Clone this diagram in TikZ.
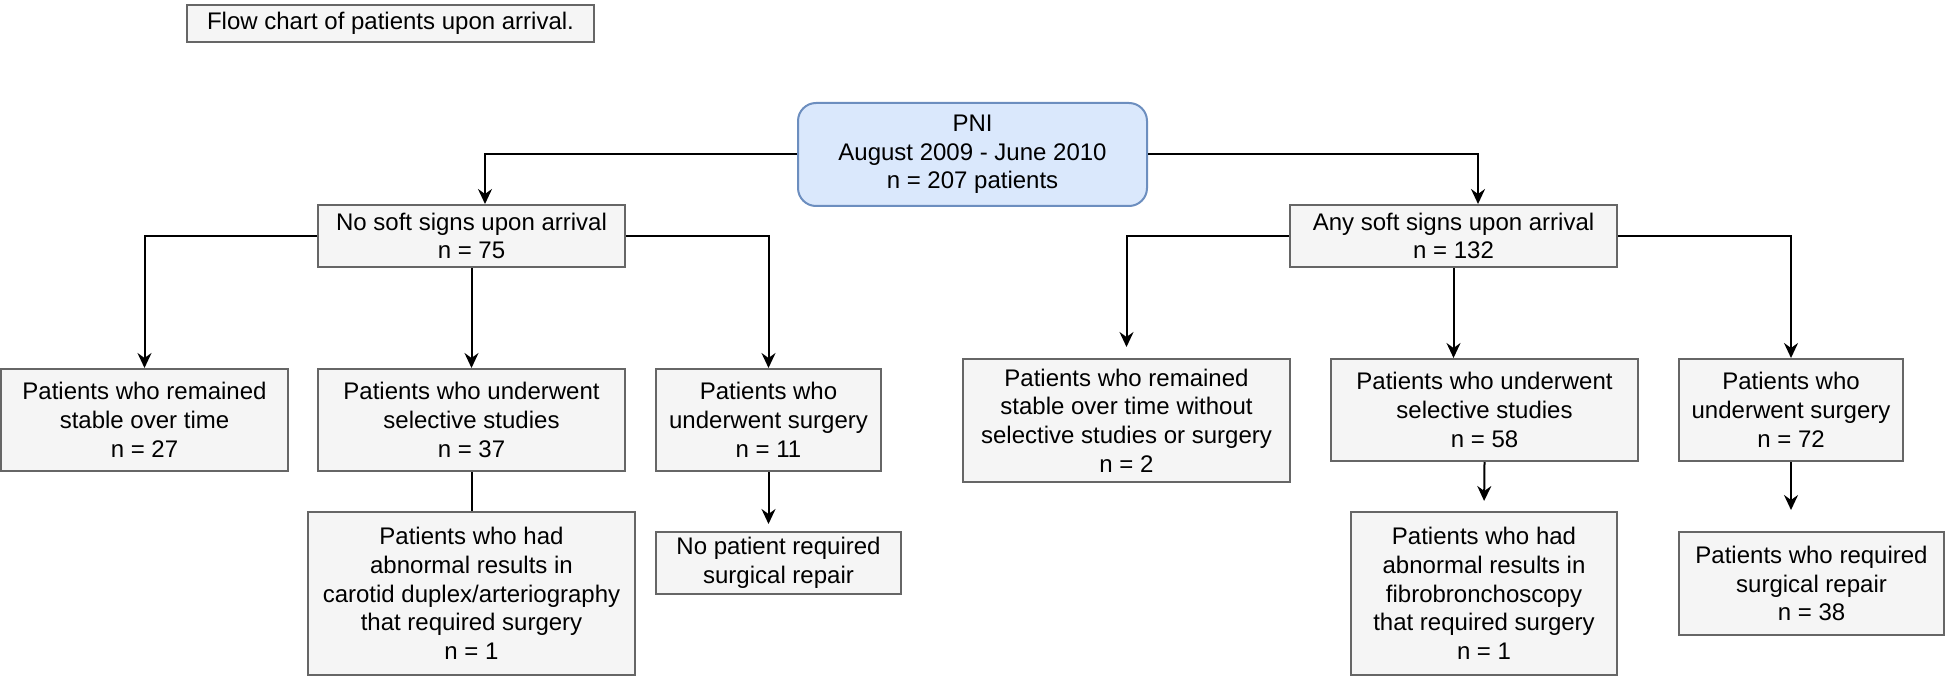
\documentclass[tikz,border=0pt]{standalone}
\usepackage{fontspec}
\setmainfont{Liberation Sans}
\usetikzlibrary{calc,arrows.meta}

\definecolor{pnifill}{HTML}{DAE8FC}
\definecolor{pniline}{HTML}{6C8EBF}
\definecolor{boxfill}{HTML}{F5F5F5}
\definecolor{boxline}{HTML}{666666}

\tikzset{
  greybox/.style={draw=boxline,fill=boxfill,line width=1pt,inner sep=0pt,
    align=center,font=\fontsize{12}{14.35}\selectfont},
  bluebox/.style={greybox,draw=pniline,fill=pnifill,rounded corners=9pt},
  flow/.style={line width=1pt,-{Stealth[length=7.5pt,width=7pt,inset=2.5pt]}},
  link/.style={line width=1pt}
}

\begin{document}
\begin{tikzpicture}[x=0.5pt,y=-0.5pt]
\useasboundingbox (0,0) rectangle (1946,679);

% Title and root
\node[greybox,minimum width=203.5pt,minimum height=18.5pt] (title) at (390.5,23.5)
  {Flow chart of patients upon arrival.};
\node[bluebox,minimum width=174.5pt,minimum height=51.5pt] (pni) at (972.5,154.5)
  {PNI\\August 2009 - June 2010\\n = 207 patients};

% Second level
\node[greybox,minimum width=153.5pt,minimum height=31pt] (nosoft) at (471.5,236)
  {No soft signs upon arrival\\n = 75};
\node[greybox,minimum width=163.5pt,minimum height=31pt] (anysoft) at (1453.5,236)
  {Any soft signs upon arrival\\n = 132};

% No soft signs branch
\node[greybox,minimum width=143.5pt,minimum height=51pt] (stableL) at (144.5,420)
  {Patients who remained\\stable over time\\n = 27};
\node[greybox,minimum width=153.5pt,minimum height=51pt] (studiesL) at (471.5,420)
  {Patients who underwent\\selective studies\\n = 37};
\node[greybox,minimum width=112.5pt,minimum height=51pt] (surgeryL) at (768.5,420)
  {Patients who\\underwent surgery\\n = 11};
\node[greybox,minimum width=163.5pt,minimum height=81.5pt] (carotid) at (471.5,593.5)
  {Patients who had\\abnormal results in\\carotid duplex/arteriography\\that required surgery\\n = 1};
\node[greybox,minimum width=122.5pt,minimum height=31pt] (norepair) at (778.5,563)
  {No patient required\\surgical repair};

% Any soft signs branch
\node[greybox,minimum width=163.5pt,minimum height=61.5pt] (stableR) at (1126.5,420.5)
  {Patients who remained\\stable over time without\\selective studies or surgery\\n = 2};
\node[greybox,minimum width=153.5pt,minimum height=51pt] (studiesR) at (1484.5,410)
  {Patients who underwent\\selective studies\\n = 58};
\node[greybox,minimum width=112pt,minimum height=51pt] (surgeryR) at (1791,410)
  {Patients who\\underwent surgery\\n = 72};
\node[greybox,minimum width=133pt,minimum height=81.5pt] (fibro) at (1484,593.5)
  {Patients who had\\abnormal results in\\fibrobronchoscopy\\that required surgery\\n = 1};
\node[greybox,minimum width=132.5pt,minimum height=51.5pt] (repairR) at (1811.5,583.5)
  {Patients who required\\surgical repair\\n = 38};

% Connectors
\draw[flow] (pni.west) -| ($(nosoft.north)+(13.5,0)$);
\draw[flow] (pni.east) -| ($(anysoft.north)+(24.5,0)$);

\draw[flow] (nosoft.west) -| (stableL.north);
\draw[flow] (nosoft.south) -- (studiesL.north);
\draw[flow] (nosoft.east) -| (surgeryL.north);
\draw[link] (studiesL.south) -- (carotid.north);
\draw[flow,shorten >=3.5pt] (surgeryL.south) -- (surgeryL.south |- norepair.north);

\draw[flow,shorten >=5.5pt] (anysoft.west) -| (stableR.north);
\draw[flow] (anysoft.south) -- (anysoft.south |- studiesR.north);
\draw[flow] (anysoft.east) -| (surgeryR.north);
\draw[flow,shorten >=5pt] (studiesR.south) -- (fibro.north);
\draw[flow,shorten >=10.5pt] (surgeryR.south) -- (surgeryR.south |- repairR.north);
\end{tikzpicture}
\end{document}
